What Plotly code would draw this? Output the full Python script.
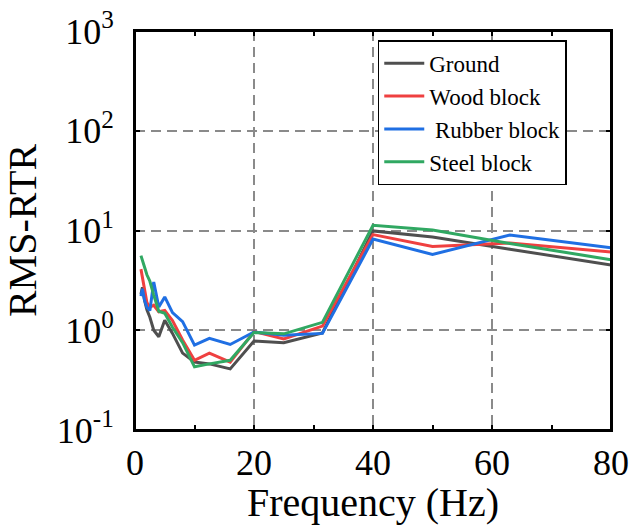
import plotly.graph_objects as go

freq = [1, 1.25, 1.6, 2, 2.5, 3.15, 4, 5, 6.3, 8, 10, 12.5, 16, 20, 25, 31.5, 40, 50, 63, 80]

ground = [2.3, 2.7, 2.0, 1.6, 1.35, 1.0, 0.86, 1.26, 0.93, 0.59, 0.48, 0.46, 0.41, 0.78, 0.75, 0.94, 9.9, 8.6, 6.5, 4.5]
wood   = [4.1, 3.4, 2.6, 1.9, 1.7, 1.78, 1.53, 1.58, 1.25, 0.80, 0.50, 0.59, 0.48, 0.97, 0.82, 1.1, 9.1, 6.9, 7.5, 6.1]
rubber = [2.2, 2.6, 2.0, 1.7, 1.58, 3.05, 1.71, 2.16, 1.5, 1.22, 0.71, 0.83, 0.72, 0.96, 0.89, 0.93, 8.2, 5.75, 9.0, 6.7]
steel  = [5.6, 4.9, 4.3, 3.6, 3.1, 2.25, 1.55, 1.48, 1.07, 0.75, 0.43, 0.46, 0.50, 0.95, 0.92, 1.2, 11.3, 10.1, 7.4, 5.1]

names = ["Ground", "Wood block", " Rubber block", "Steel block"]
colors = ["#4f4f4f", "#ef4040", "#1f6fe3", "#30a862"]
series = [ground, wood, rubber, steel]

ytickvals = [0.1, 1, 10, 100, 1000]
yticktext = ["10<sup>-1</sup>", "10<sup>0</sup>", "10<sup>1</sup>", "10<sup>2</sup>", "10<sup>3</sup>"]

fig = go.Figure()
for n, c, s in zip(names, colors, series):
    fig.add_trace(go.Scatter(x=freq, y=s, mode="lines", name=n,
                             line=dict(color=c, width=3)))

font_family = "Liberation Serif, Times New Roman, serif"
fig.update_layout(
    width=634, height=525,
    margin=dict(l=135, r=23, t=31, b=95, autoexpand=False),
    paper_bgcolor="white", plot_bgcolor="white",
    font=dict(family=font_family, size=36, color="black"),
    showlegend=True,
    legend=dict(x=0.51, y=0.977, xanchor="left", yanchor="top",
                bordercolor="black", borderwidth=1.5, bgcolor="white",
                font=dict(size=23, family=font_family), tracegroupgap=0,
                itemwidth=40),
    shapes=[dict(type="rect", xref="paper", yref="paper", x0=0, x1=1, y0=0, y1=1,
                 line=dict(color="black", width=2), layer="above")],
)
fig.update_xaxes(
    range=[0, 80], dtick=20, tick0=0, automargin=False,
    showline=True, linecolor="black", linewidth=2, mirror="ticks",
    ticks="inside", ticklen=5, tickwidth=1.5, tickcolor="black",
    minor=dict(dtick=10, ticks="inside", ticklen=5, tickwidth=1.5, tickcolor="black", showgrid=False),
    showgrid=True, gridcolor="#8a8a8a", griddash="10px,6px", gridwidth=1.5,
    zeroline=False,
    title=dict(text="Frequency (Hz)", font=dict(size=40), standoff=4),
    tickfont=dict(size=36),
    ticklabelstandoff=0,
    ticklabeloverflow="allow",
)
fig.update_yaxes(
    type="log", range=[-1, 3], automargin=False,
    tickvals=ytickvals, ticktext=yticktext,
    showline=True, linecolor="black", linewidth=2, mirror="ticks",
    ticks="inside", ticklen=5, tickwidth=1.5, tickcolor="black",
    showgrid=True, gridcolor="#8a8a8a", griddash="10px,6px", gridwidth=1.5,
    zeroline=False,
    title=dict(text="RMS-RTR", font=dict(size=40), standoff=24),
    tickfont=dict(size=36),
    ticklabelstandoff=12,
    ticklabeloverflow="allow",
)

fig.write_html("out.html", config={"displayModeBar": False},
               post_script="document.body.style.margin='0';document.body.style.overflow='hidden';")
